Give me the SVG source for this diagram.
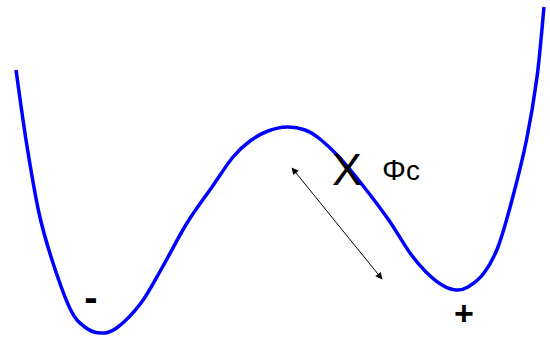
<svg xmlns="http://www.w3.org/2000/svg" width="550" height="344" viewBox="0 0 550 344">
<style>
.curve{fill:none;stroke:#0000ff;stroke-width:3.5;stroke-linejoin:round;stroke-linecap:butt}
.lbl{font-family:"Liberation Sans",Arial,sans-serif;fill:#000}
.conn{stroke:#000;stroke-width:1;fill:none}
</style>
<defs>
<marker id="ah" viewBox="0 0 10 10" refX="9" refY="5" markerWidth="10" markerHeight="7" markerUnits="userSpaceOnUse" orient="auto-start-reverse">
<path d="M0,0 L10,5 L0,10 z" fill="#000"/>
</marker>
</defs>
<g id="potential">
<path class="curve" d="M16,70 C17.75,82.2 22.67,119.17 26.5,143 C30.33,166.83 34.58,193 39,213 C43.42,233 47.72,246.83 53,263 C58.28,279.17 65.4,299.33 70.7,310 C76,320.67 79.920,323.17 84.8,327 C89.68,330.83 94.7,332.83 100,333 C105.3,333.17 109.77,333 116.6,328 C123.43,323 133.35,313.17 141,303 C148.65,292.83 154.83,280.33 162.5,267 C170.17,253.67 178.75,236.33 187,223 C195.25,209.67 204.33,198 212,187 C219.67,176 226.67,164.67 233,157 C239.33,149.33 244.17,145.33 250,141 C255.83,136.67 261.83,133.33 268,131 C274.17,128.67 280.83,127.17 287,127 C293.17,126.83 299.5,128 305,130 C310.5,132 314.33,134.5 320,139 C325.67,143.5 331.67,149 339,157 C346.33,165 355.72,176.5 364,187 C372.28,197.5 381.03,209 388.7,220 C396.37,231 403.78,244.33 410,253 C416.22,261.67 420.67,266.67 426,272 C431.33,277.33 437,282 442,285 C447,288 451.67,289.67 456,290 C460.33,290.33 463.33,289.83 468,287 C472.67,284.17 479,279.67 484,273 C489,266.33 493.33,259.17 498,247 C502.67,234.83 507.25,217.83 512,200 C516.75,182.17 522.33,160.5 526.5,140 C530.67,119.5 534.08,99.17 537,77 C539.92,54.83 542.83,18.67 544,7"/>
</g>
<g id="connectors">
<line class="conn" x1="292" y1="168" x2="382" y2="279" marker-start="url(#ah)" marker-end="url(#ah)"/>
</g>
<g id="label-x"><text class="lbl" x="347" y="185" font-size="45" text-anchor="middle">X</text></g>
<g id="label-phic"><text class="lbl" x="382" y="180" font-size="28"><tspan font-size="30">Φ</tspan>c</text></g>
<g id="label-minus"><text class="lbl" x="91" y="311" font-size="40" font-weight="bold" text-anchor="middle">-</text></g>
<g id="label-plus"><text class="lbl" x="464" y="324.5" font-size="34" font-weight="bold" text-anchor="middle">+</text></g>
</svg>
